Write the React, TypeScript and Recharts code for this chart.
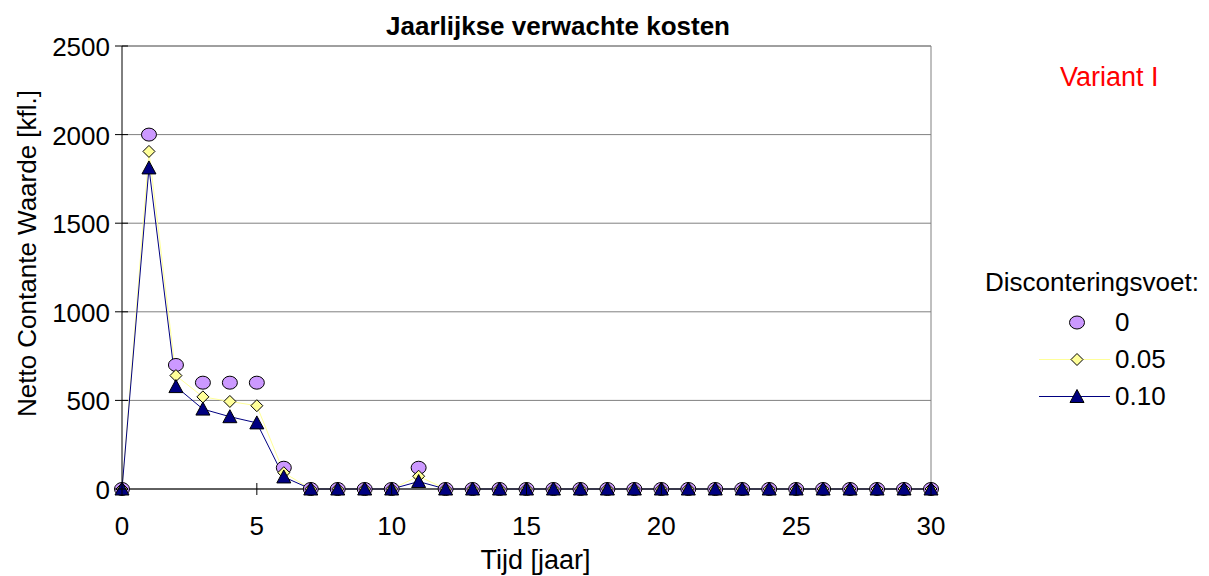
import React from 'react';
import { ComposedChart, Line, XAxis, YAxis, CartesianGrid, ReferenceLine, Legend } from 'recharts';

const FONT = '"Liberation Sans", Arial, sans-serif';

// Years (x categories)
const years = [0, 1, 2, 3, 4, 5, 6, 7, 8, 9, 10, 11, 12, 13, 14, 15, 16, 17, 18, 19, 20, 21, 22, 23, 24, 25, 26, 27, 28, 29, 30];

// Net present value [kfl.] per discount rate
const rate0 = [0, 2000, 700, 600, 600, 600, 120, 0, 0, 0, 0, 120, 0, 0, 0, 0, 0, 0, 0, 0, 0, 0, 0, 0, 0, 0, 0, 0, 0, 0, 0];
const rate005 = [0, 1905, 640, 520, 494, 470, 92, 0, 0, 0, 0, 72, 0, 0, 0, 0, 0, 0, 0, 0, 0, 0, 0, 0, 0, 0, 0, 0, 0, 0, 0];
const rate010 = [0, 1812, 578, 451, 408, 373, 68, 0, 0, 0, 0, 42, 0, 0, 0, 0, 0, 0, 0, 0, 0, 0, 0, 0, 0, 0, 0, 0, 0, 0, 0];

const xTicks = [0, 5, 10, 15, 20, 25, 30];
const yTicks = [0, 500, 1000, 1500, 2000, 2500];

const data = years.map((t, i) => ({ t, r0: rate0[i], r005: rate005[i], r010: rate010[i] }));

const CIRCLE = '#CC99FF';
const DIAMOND = '#FFFF99';
const NAVY = '#000080';

const circleShape = (cx: number, cy: number) => (
  <ellipse cx={cx} cy={cy} rx={7.5} ry={6.5} fill={CIRCLE} stroke="#000" strokeWidth={1} />
);
const diamondShape = (cx: number, cy: number) => (
  <polygon
    points={`${cx},${cy - 6} ${cx + 6},${cy} ${cx},${cy + 6} ${cx - 6},${cy}`}
    fill={DIAMOND}
    stroke="#000"
    strokeWidth={1}
  />
);
const triangleShape = (cx: number, cy: number) => (
  <polygon
    points={`${cx},${cy - 7} ${cx + 7},${cy + 6} ${cx - 7},${cy + 6}`}
    fill={NAVY}
    stroke="#000"
    strokeWidth={1}
  />
);

const makeDot = (shape: (cx: number, cy: number) => React.ReactElement) => (props: any) => {
  const { cx, cy, index } = props;
  if (cx == null || cy == null) return <g key={`d-${index}`} />;
  return <g key={`d-${index}`}>{shape(cx, cy)}</g>;
};

const markerFor: Record<string, (cx: number, cy: number) => React.ReactElement> = {
  r0: circleShape,
  r005: diamondShape,
  r010: triangleShape,
};
const lineFor: Record<string, string | null> = {
  r0: null,
  r005: DIAMOND,
  r010: NAVY,
};

const renderLegend = (props: any) => {
  const payload = props.payload || [];
  return (
    <div style={{ width: 230, fontFamily: FONT, fontSize: 26, color: '#000' }}>
      <div style={{ height: 43, lineHeight: '43px', whiteSpace: 'nowrap' }}>Disconteringsvoet:</div>
      {payload.map((entry: any) => {
        const key = entry.dataKey as string;
        const stroke = lineFor[key];
        return (
          <div key={key} style={{ display: 'flex', alignItems: 'center', height: 37 }}>
            <svg width={130} height={37} style={{ display: 'block', flex: 'none' }}>
              {stroke && <line x1={54} x2={125} y1={18.5} y2={18.5} stroke={stroke} strokeWidth={1} />}
              {markerFor[key](92, 18.5)}
            </svg>
            <span style={{ lineHeight: '37px' }}>{entry.value}</span>
          </div>
        );
      })}
    </div>
  );
};

// Tick marks that cross the axis line, as in spreadsheet charts
const YTick = (props: any) => {
  const { x, y, payload } = props;
  const axisX = x + 15;
  return (
    <g>
      <line x1={axisX - 7} x2={axisX + 6} y1={y} y2={y} stroke="#000" />
      <text x={axisX - 12} y={y + 1} textAnchor="end" dominantBaseline="central" fontSize={26} fontFamily={FONT} fill="#000">
        {payload.value}
      </text>
    </g>
  );
};

const XTick = (props: any) => {
  const { x, y, payload } = props;
  const axisY = y - 27;
  return (
    <g>
      <line x1={x} x2={x} y1={axisY - 6} y2={axisY + 6} stroke="#000" />
      <text x={x} y={axisY + 37} textAnchor="middle" dominantBaseline="central" fontSize={26} fontFamily={FONT} fill="#000">
        {payload.value}
      </text>
    </g>
  );
};

const yLabel = (props: any) => {
  const vb = props.viewBox;
  const cx = 19;
  const cy = vb.y + vb.height / 2 - 14;
  return (
    <text
      x={cx}
      y={cy}
      transform={`rotate(-90, ${cx}, ${cy})`}
      textAnchor="middle"
      dominantBaseline="central"
      fontSize={26}
      fontFamily={FONT}
      fill="#000"
    >
      Netto Contante Waarde [kfl.]
    </text>
  );
};

const xLabel = (props: any) => {
  const vb = props.viewBox;
  return (
    <text
      x={vb.x + vb.width / 2 + 9}
      y={552}
      textAnchor="middle"
      dominantBaseline="central"
      fontSize={27}
      fontFamily={FONT}
      fill="#000"
    >
      Tijd [jaar]
    </text>
  );
};

export default function App() {
  const W = 1193;
  const H = 568;
  return (
    <div style={{ position: 'relative', width: W, height: H, fontFamily: FONT, background: '#fff' }}>
      <div
        style={{
          position: 'absolute',
          left: 0,
          width: 1100,
          top: 3,
          textAlign: 'center',
          fontWeight: 'bold',
          fontSize: 26,
          lineHeight: '30px',
          color: '#000',
        }}
      >
        Jaarlijkse verwachte kosten
      </div>
      <div
        style={{
          position: 'absolute',
          left: 1052,
          top: 54,
          fontSize: 27,
          lineHeight: '30px',
          color: '#FF0000',
        }}
      >
        Variant I
      </div>
      <ComposedChart
        width={W}
        height={H}
        data={data}
        margin={{ top: 38, right: 270, bottom: 47, left: 14 }}
      >
        <CartesianGrid vertical={false} stroke="#808080" strokeWidth={1} />
        <XAxis
          dataKey="t"
          type="number"
          domain={[0, 30]}
          ticks={xTicks}
          interval={0}
          height={40}
          axisLine={{ stroke: '#000' }}
          tickLine={false}
          tickSize={6}
          tickMargin={21}
          tick={<XTick />}
          label={{ content: xLabel }}
        />
        <YAxis
          type="number"
          domain={[0, 2500]}
          ticks={yTicks}
          interval={0}
          width={100}
          axisLine={{ stroke: '#000' }}
          tickLine={false}
          tickSize={7}
          tickMargin={8}
          tick={<YTick />}
          label={{ content: yLabel }}
        />
        <ReferenceLine x={30} stroke="#808080" strokeWidth={1} />
        <ReferenceLine y={2500} stroke="#808080" strokeWidth={1} />
        <Legend
          layout="vertical"
          align="center"
          verticalAlign="middle"
          content={renderLegend}
          wrapperStyle={{ left: 977, top: 253, width: 230 }}
        />
        <Line
          dataKey="r0"
          name="0"
          stroke="none"
          strokeWidth={0}
          dot={makeDot(circleShape)}
          activeDot={false}
          isAnimationActive={false}
        />
        <Line
          dataKey="r005"
          name="0.05"
          stroke={DIAMOND}
          strokeWidth={1}
          dot={makeDot(diamondShape)}
          activeDot={false}
          isAnimationActive={false}
        />
        <Line
          dataKey="r010"
          name="0.10"
          stroke={NAVY}
          strokeWidth={1}
          dot={makeDot(triangleShape)}
          activeDot={false}
          isAnimationActive={false}
        />
      </ComposedChart>
    </div>
  );
}
